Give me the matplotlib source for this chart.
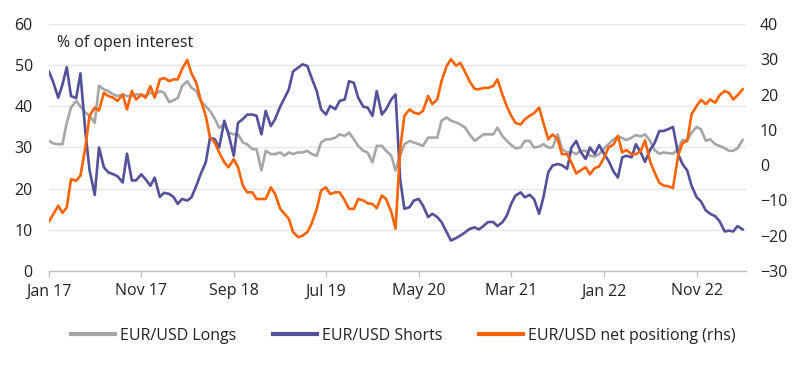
import matplotlib
matplotlib.use("Agg")
import matplotlib.pyplot as plt
import pandas as pd

plt.rcParams['font.family'] = ['Open Sans', 'DejaVu Sans']

# Semi-monthly observation dates, Jan 2017 .. Apr 2023
dates = pd.date_range('2017-01-01', periods=151, freq='SMS')

longs = [
    31.6, 31.0, 30.8, 30.8, 36.0, 39.7, 41.3, 40.0, 38.5, 37.7,
    36.0, 45.0, 44.1, 43.7, 42.9, 42.5, 42.9, 42.5, 42.5, 42.9,
    42.9, 42.5, 43.3, 42.9, 43.7, 43.3, 41.0, 41.5, 42.0, 44.9,
    46.1, 44.5, 43.7, 41.3, 40.0, 38.9, 36.9, 34.8, 35.6, 33.6,
    33.2, 33.2, 31.2, 30.8, 29.6, 29.6, 24.4, 29.2, 28.4, 28.4,
    28.8, 28.0, 28.8, 28.4, 28.8, 28.8, 29.2, 28.4, 28.0, 31.2,
    32.0, 32.0, 32.4, 33.2, 32.8, 33.6, 32.0, 30.4, 29.2, 28.8,
    26.4, 30.4, 30.4, 29.2, 28.0, 24.4, 28.0, 30.8, 31.6, 31.2,
    30.8, 30.4, 32.4, 32.4, 32.4, 36.5, 37.3, 36.5, 36.1, 35.6,
    34.8, 33.2, 31.6, 32.4, 33.2, 33.2, 33.2, 34.8, 32.7, 31.6,
    30.6, 29.8, 30.0, 31.6, 31.6, 30.0, 30.2, 30.8, 30.0, 30.0,
    33.2, 29.6, 28.8, 29.0, 28.4, 29.2, 29.2, 28.0, 27.8, 28.4,
    29.8, 30.8, 32.0, 32.7, 32.3, 31.8, 32.4, 33.0, 32.7, 33.2,
    31.6, 29.4, 28.5, 28.8, 28.6, 28.5, 29.6, 31.8, 31.8, 33.6,
    35.0, 34.4, 31.6, 32.0, 30.8, 30.4, 29.8, 29.2, 29.2, 29.8,
    31.8,
]

shorts = [
    48.5, 46.0, 42.1, 45.3, 49.5, 42.5, 42.0, 48.0, 34.0, 24.5,
    18.5, 30.0, 25.2, 24.0, 23.5, 23.0, 21.5, 28.5, 22.0, 22.0,
    23.5, 22.3, 20.7, 22.7, 18.0, 19.0, 18.7, 18.0, 16.3, 17.5,
    17.1, 17.9, 20.7, 23.5, 26.4, 32.4, 32.0, 30.0, 36.5, 33.2,
    28.0, 36.0, 36.9, 38.0, 38.0, 37.7, 33.2, 38.9, 35.2, 36.9,
    40.0, 42.0, 44.1, 48.5, 49.4, 50.2, 49.8, 46.9, 43.7, 39.3,
    38.0, 40.1, 39.3, 41.3, 41.7, 46.1, 45.7, 42.1, 39.9, 39.7,
    37.7, 43.7, 38.0, 39.3, 41.7, 42.9, 22.3, 15.1, 15.5, 17.1,
    17.5, 15.9, 13.1, 13.9, 13.1, 11.9, 9.4, 7.4, 8.0, 8.6,
    9.4, 10.2, 10.6, 10.1, 11.0, 11.9, 11.9, 10.9, 11.9, 13.5,
    16.3, 18.3, 19.1, 17.9, 18.5, 17.5, 13.9, 17.9, 24.0, 25.6,
    26.0, 25.7, 24.8, 30.0, 31.6, 29.0, 27.2, 30.0, 28.4, 30.6,
    28.4, 26.8, 24.1, 22.7, 27.6, 28.0, 27.6, 30.8, 28.8, 26.5,
    29.5, 31.0, 34.0, 34.0, 34.5, 35.0, 28.4, 26.0, 24.4, 20.7,
    17.9, 16.9, 14.7, 13.9, 13.3, 12.1, 9.6, 9.8, 9.6, 10.9,
    10.1,
]

net = [
    -16.0, -14.0, -11.5, -13.5, -12.0, -4.0, -4.4, -3.0, 5.0, 14.0,
    16.3, 15.5, 20.5, 19.6, 19.1, 18.2, 20.0, 15.8, 21.0, 18.6,
    20.0, 19.1, 22.4, 19.1, 24.3, 24.7, 23.8, 24.3, 24.3, 27.2,
    29.8, 26.0, 23.3, 18.6, 14.0, 7.8, 6.4, 3.6, 0.8, -0.6,
    1.7, -0.6, -5.8, -7.7, -7.7, -9.6, -9.6, -9.6, -6.3, -8.2,
    -12.4, -13.8, -15.2, -19.0, -20.4, -20.0, -19.0, -16.6, -12.4, -7.2,
    -6.3, -8.2, -7.7, -7.7, -10.0, -12.4, -12.4, -9.6, -10.0, -10.8,
    -11.0, -12.2, -8.6, -9.6, -13.3, -18.0, 4.5, 14.0, 15.8, 14.9,
    14.5, 15.4, 19.6, 17.3, 18.6, 23.8, 28.1, 30.0, 28.2, 29.0,
    26.3, 23.8, 21.6, 21.5, 21.9, 21.9, 22.4, 24.3, 19.8, 16.6,
    14.0, 12.0, 11.5, 13.0, 14.0, 14.7, 16.3, 12.0, 7.3, 8.7,
    7.3, 3.1, 3.1, 0.8, -2.4, -1.5, -0.6, -2.6, -0.8, -0.4,
    2.2, 5.0, 5.9, 8.3, 3.6, 4.3, 3.1, 3.1, 4.0, 7.0,
    1.0, -2.0, -5.0, -5.8, -6.0, -6.5, 2.7, 6.2, 6.9, 14.4,
    16.8, 18.5, 17.3, 18.6, 17.7, 19.8, 21.0, 20.5, 18.6, 19.8,
    21.5,
]

tick_dates = pd.to_datetime(['2017-01-01', '2017-11-01', '2018-09-01', '2019-07-01',
                             '2020-05-01', '2021-03-01', '2022-01-01', '2022-11-01'])
tick_labels = ['Jan 17', 'Nov 17', 'Sep 18', 'Jul 19', 'May 20', 'Mar 21', 'Jan 22', 'Nov 22']
left_ticks = [0, 10, 20, 30, 40, 50, 60]
right_ticks = [-30, -20, -10, 0, 10, 20, 30, 40]

labels = ['EUR/USD Longs', 'EUR/USD Shorts', 'EUR/USD net positiong (rhs)']
colors = ['#A6A6A6', '#525199', '#FF6200']

FS = 11.5
txt_color = '#222222'

fig = plt.figure(figsize=(8.0, 3.67), dpi=100)
ax = fig.add_axes([0.061, 0.2616, 0.8715, 0.673])
ax2 = ax.twinx()

l1, = ax.plot(dates, longs, color=colors[0], lw=1.9, label=labels[0], zorder=3)
l2, = ax.plot(dates, shorts, color=colors[1], lw=1.9, label=labels[1], zorder=4)
l3, = ax2.plot(dates, net, color=colors[2], lw=1.9, label=labels[2], zorder=5)

ax.set_ylim(0, 60)
ax.set_yticks(left_ticks)
ax2.set_ylim(-30, 40)
ax2.set_yticks(right_ticks)
ax.set_xlim(pd.Timestamp('2017-01-01'), pd.Timestamp('2023-04-12'))
ax.set_xticks(tick_dates)
ax.set_xticklabels(tick_labels)

ax.grid(axis='y', color='#E6E6E6', lw=1.0, zorder=0)
ax.set_axisbelow(True)

for sp in ['top', 'left', 'right']:
    ax.spines[sp].set_visible(False)
for sp in ax2.spines.values():
    sp.set_visible(False)
ax.spines['bottom'].set_color('#BFBFBF')
ax.spines['bottom'].set_linewidth(1.0)

ax.tick_params(axis='x', length=4, width=1, color='#BFBFBF', labelsize=FS,
               labelcolor=txt_color, pad=5)
ax.tick_params(axis='y', length=0, labelsize=FS, labelcolor=txt_color, pad=11.5)
ax2.tick_params(axis='y', length=0, labelsize=FS, labelcolor=txt_color, pad=10)

ax.text(0.012, 0.925, '% of open interest', transform=ax.transAxes,
        fontsize=FS, color=txt_color, va='center', ha='left')

fig.legend(handles=[l1, l2, l3], labels=labels, loc='center', ncol=3,
           bbox_to_anchor=(0.504, 0.0845), frameon=False, fontsize=FS,
           handlelength=2.75, handletextpad=0.3, columnspacing=2.3,
           labelcolor=txt_color)
for h in fig.legends[0].get_lines():
    h.set_linewidth(3)

fig.savefig('out.png', dpi=100)
